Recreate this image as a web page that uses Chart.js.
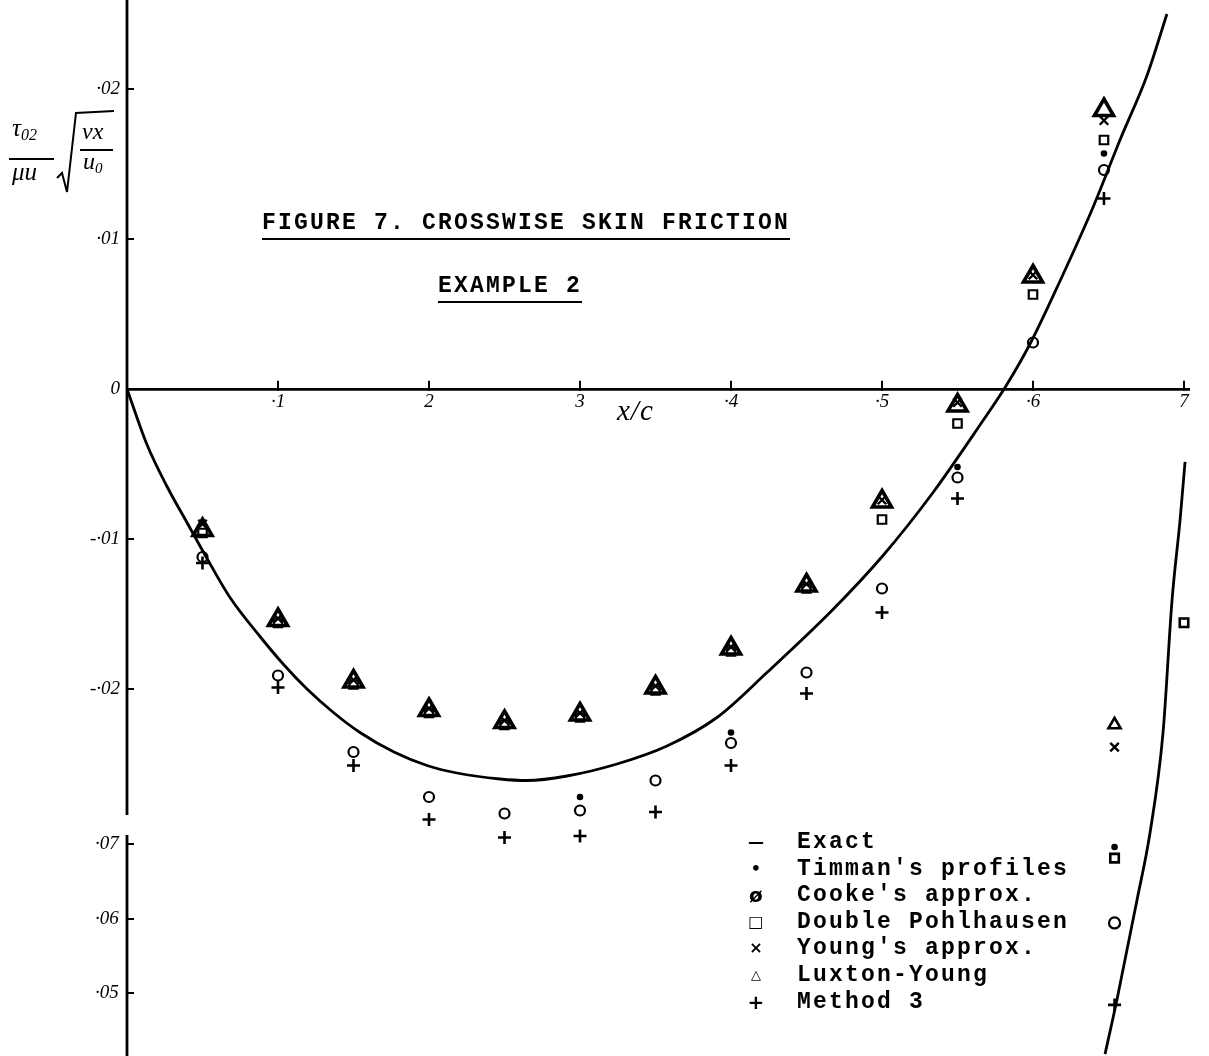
<!DOCTYPE html>
<html><head><meta charset="utf-8">
<script src="https://cdn.jsdelivr.net/npm/chart.js@4.4.1/dist/chart.umd.min.js"></script>
<style>
html,body{margin:0;padding:0;background:#fff;}
#wrap{position:relative;width:1209px;height:1056px;overflow:hidden;background:#fff;}
canvas{position:absolute;left:0;top:0;}
.ov{position:absolute;color:#000;white-space:nowrap;}
.tw{font-family:"Liberation Mono","DejaVu Sans Mono",monospace;font-weight:bold;font-size:23px;letter-spacing:2.2px;white-space:nowrap;}
.hw{font-family:"Liberation Serif","DejaVu Serif",serif;font-style:italic;}
.leg{position:absolute;left:745px;top:829px;}
.leg .row{position:relative;height:26.6px;line-height:26.6px;white-space:nowrap;}
.leg .sym{position:absolute;left:0;width:24px;text-align:center;font-family:"DejaVu Sans",sans-serif;font-size:16px;}
.leg .txt{position:absolute;left:52px;white-space:nowrap;}
</style></head>
<body><div id="wrap"><canvas id="c" width="1209" height="1056"></canvas>

<div class="ov hw" style="left:12px;top:114px;font-size:25px;">τ<span style="font-size:16px;position:relative;top:4px;">02</span></div>
<div class="ov" style="left:9px;top:158px;width:45px;border-top:2px solid #000;"></div>
<div class="ov hw" style="left:12px;top:158px;font-size:25px;">μu</div>
<svg class="ov" style="left:0;top:0;" width="130" height="200"><polyline points="57,178 62,173 67,192 76,113 114,111" fill="none" stroke="#000" stroke-width="2"/></svg>
<div class="ov hw" style="left:82px;top:118px;font-size:24px;">νx</div>
<div class="ov" style="left:80px;top:149px;width:33px;border-top:2px solid #000;"></div>
<div class="ov hw" style="left:83px;top:148px;font-size:24px;">u<span style="font-size:15px;position:relative;top:4px;">0</span></div>

<div class="ov tw" style="left:262px;top:211px;line-height:24px;border-bottom:2.5px solid #000;padding-bottom:3px;">FIGURE 7. CROSSWISE SKIN FRICTION</div>
<div class="ov tw" style="left:438px;top:274px;line-height:24px;border-bottom:2.5px solid #000;padding-bottom:3px;">EXAMPLE 2</div>

<div class="ov hw" style="left:617px;top:394px;font-size:29px;letter-spacing:1px;">x/c</div>

<div class="leg tw">
 <div class="row"><span class="sym">—</span><span class="txt">Exact</span></div>
 <div class="row"><span class="sym">•</span><span class="txt">Timman's profiles</span></div>
 <div class="row"><span class="sym" style="font-size:20px;font-weight:bold;">ø</span><span class="txt">Cooke's approx.</span></div>
 <div class="row"><span class="sym">□</span><span class="txt">Double Pohlhausen</span></div>
 <div class="row"><span class="sym">×</span><span class="txt">Young's approx.</span></div>
 <div class="row"><span class="sym" style="font-size:13px;">△</span><span class="txt">Luxton-Young</span></div>
 <div class="row"><span class="sym" style="font-size:20px;">+</span><span class="txt">Method 3</span></div>
</div>
</div>
<script>
// ---- tick values and labels ----
const xTicks = [0, 0.1, 0.2, 0.3, 0.4, 0.5, 0.6, 0.7];
const xTickLabels = ["", "·1", "2", "3", "·4", "·5", "·6", "7"];
const yTicks = [-0.02, -0.01, 0, 0.01, 0.02];
const yTickLabels = ["-·02", "-·01", "0", "·01", "·02"];
const y2Ticks = [0.05, 0.06, 0.07];
const y2TickLabels = ["·05", "·06", "·07"];

// ---- exact solution (main branch, main scale) ----
const exactX = [0, 0.0132, 0.0265, 0.0397, 0.0530, 0.0682, 0.0881, 0.1040, 0.1192, 0.1371, 0.1543, 0.1768, 0.1987, 0.2185, 0.2470, 0.2649, 0.2914, 0.3245, 0.3576, 0.3907, 0.4238, 0.4675, 0.5007, 0.5338, 0.5649, 0.5821, 0.5980, 0.6179, 0.6397, 0.6576, 0.6755, 0.6887];
const exactY = [0, -0.0037, -0.0065, -0.0089, -0.0113, -0.0139, -0.0165, -0.0184, -0.0200, -0.0216, -0.0229, -0.0242, -0.0251, -0.0256, -0.0260, -0.0261, -0.0258, -0.0250, -0.0238, -0.0219, -0.0189, -0.0147, -0.0111, -0.0069, -0.0024, 0.0002, 0.0030, 0.0072, 0.0121, 0.0166, 0.0209, 0.0250];
// ---- exact solution (second branch, lower scale) ----
const exact2X = [0.6477, 0.6556, 0.6689, 0.6775, 0.6861, 0.6921, 0.6974, 0.7007];
const exact2Y = [0.0418, 0.0491, 0.0625, 0.0715, 0.0849, 0.1028, 0.1135, 0.1213];

// ---- approximate methods (main scale) ----
const stationsX = [0.05, 0.10, 0.15, 0.20, 0.25, 0.30, 0.35, 0.40, 0.45, 0.50, 0.55, 0.60, 0.647];
const luxtonY = [-0.0094, -0.0154, -0.0195, -0.0214, -0.0222, -0.0217, -0.0199, -0.0173, -0.0131, -0.0075, -0.0011, 0.0075, 0.0186];
const youngY  = [-0.0090, -0.0153, -0.0194, -0.0213, -0.0221, -0.0216, -0.0198, -0.0172, -0.0130, -0.0074, -0.0009, 0.0076, 0.0179];
const pohlY   = [-0.0096, -0.0156, -0.0197, -0.0216, -0.0224, -0.0219, -0.0201, -0.0175, -0.0133, -0.0087, -0.0023, 0.0063, 0.0166];
const cookeY  = [-0.0112, -0.0191, -0.0242, -0.0272, -0.0283, -0.0281, -0.0261, -0.0236, -0.0189, -0.0133, -0.0059, 0.0031, 0.0146];
const method3X = [0.05, 0.10, 0.15, 0.20, 0.25, 0.30, 0.35, 0.40, 0.45, 0.50, 0.55, 0.647];
const method3Y = [-0.0116, -0.0199, -0.0251, -0.0287, -0.0299, -0.0298, -0.0282, -0.0251, -0.0203, -0.0149, -0.0073, 0.0127];
const timmanX = [0.30, 0.40, 0.55, 0.647];
const timmanY = [-0.0272, -0.0229, -0.0052, 0.0157];

// ---- approximate methods (lower scale) ----
const lowX = [0.654];
const luxtonLowY = [0.0860];
const youngLowY = [0.0830];
const timmanLowY = [0.0696];
const cookeLowY = [0.0594];
const method3LowY = [0.0484];
const pohlLowX = [0.654, 0.700];
const pohlLowY = [0.0681, 0.0997];

// ---- axis break positions ----
const mainAxisEnd = -0.0284;
const lowerAxisStart = 0.0712;

const pts = (xs, ys) => xs.map((x, i) => ({x: x, y: ys[i]}));
const tickFont = {family: "'Liberation Serif','DejaVu Serif',serif", style: 'italic', size: 19};

function marker(label, xs, ys, style, radius, axis, extra) {
  return Object.assign({
    label: label, data: pts(xs, ys), yAxisID: axis, showLine: false,
    pointStyle: style, pointRadius: radius, pointHoverRadius: radius,
    borderColor: '#000', backgroundColor: 'rgba(0,0,0,0)', pointBorderWidth: 2,
    clip: false
  }, extra || {});
}

const datasets = [
  {label: 'Exact', data: pts(exactX, exactY), yAxisID: 'y', showLine: true, borderColor: '#000', borderWidth: 2.8, pointRadius: 0, cubicInterpolationMode: 'monotone', clip: false},
  {label: 'Exact (lower scale)', data: pts(exact2X, exact2Y), yAxisID: 'y2', showLine: true, borderColor: '#000', borderWidth: 2.8, pointRadius: 0, cubicInterpolationMode: 'monotone', clip: false},
  marker("Luxton-Young", stationsX, luxtonY, 'triangle', 11, 'y', {pointBorderWidth: 3.6}),
  marker("Double Pohlhausen", stationsX, pohlY, 'rect', 6, 'y', {pointBorderWidth: 2.2}),
  marker("Young's approx.", stationsX, youngY, 'crossRot', 6, 'y', {pointBorderWidth: 2.4}),
  marker("Cooke's approx.", stationsX, cookeY, 'circle', 5, 'y', {pointBorderWidth: 2.2}),
  marker("Method 3", method3X, method3Y, 'cross', 6.5, 'y', {pointBorderWidth: 2.6}),
  marker("Timman's profiles", timmanX, timmanY, 'circle', 2.3, 'y', {backgroundColor: '#000'}),
  marker("Luxton-Young (lower)", lowX, luxtonLowY, 'triangle', 7, 'y2', {pointBorderWidth: 2.6}),
  marker("Young's approx. (lower)", lowX, youngLowY, 'crossRot', 6, 'y2', {pointBorderWidth: 2.4}),
  marker("Timman's profiles (lower)", lowX, timmanLowY, 'circle', 2.3, 'y2', {backgroundColor: '#000'}),
  marker("Double Pohlhausen (lower)", pohlLowX, pohlLowY, 'rect', 6, 'y2', {pointBorderWidth: 2.6}),
  marker("Cooke's approx. (lower)", lowX, cookeLowY, 'circle', 5.5, 'y2', {pointBorderWidth: 2.2}),
  marker("Method 3 (lower)", lowX, method3LowY, 'cross', 6.5, 'y2', {pointBorderWidth: 2.6})
];

const brokenAxis = {
  id: 'brokenAxis',
  afterDraw(chart) {
    const {ctx, chartArea, scales} = chart;
    const x = chartArea.left;
    ctx.save();
    ctx.strokeStyle = '#000';
    ctx.lineWidth = 2.8;
    ctx.beginPath();
    ctx.moveTo(x, chartArea.top);
    ctx.lineTo(x, scales.y.getPixelForValue(mainAxisEnd));
    ctx.moveTo(x, scales.y2.getPixelForValue(lowerAxisStart));
    ctx.lineTo(x, chartArea.bottom);
    ctx.stroke();
    ctx.restore();
  }
};

function noPad(s) { s.paddingTop = 0; s.paddingBottom = 0; s.paddingLeft = 0; s.paddingRight = 0; }

new Chart(document.getElementById('c'), {
  type: 'scatter',
  data: {datasets: datasets},
  plugins: [brokenAxis],
  options: {
    responsive: false, animation: false, devicePixelRatio: 1,
    layout: {autoPadding: false, padding: {left: 0, right: 20, top: 0, bottom: 0}},
    plugins: {legend: {display: false}, tooltip: {enabled: false}, title: {display: false}},
    scales: {
      x: {
        type: 'linear', min: 0, max: 1062 / 1510, position: {y: 0},
        afterBuildTicks: s => { s.ticks = xTicks.map(v => ({value: v})); },
        afterFit: noPad,
        ticks: {callback: (v, i) => xTickLabels[i], font: tickFont, color: '#000', padding: 12, maxRotation: 0, autoSkip: false},
        grid: {display: true, drawOnChartArea: false, drawTicks: true, tickLength: -10, color: '#000', lineWidth: 2},
        border: {display: true, color: '#000', width: 2.8}
      },
      y: {
        type: 'linear', position: 'left', weight: 1, min: -667 / 15000, max: 389 / 15000,
        afterFit: s => { s.width = 127; noPad(s); },
        afterBuildTicks: s => { s.ticks = yTicks.map(v => ({value: v})); },
        ticks: {callback: (v, i) => yTickLabels[i], font: tickFont, color: '#000', padding: 14},
        grid: {display: true, drawOnChartArea: false, drawTicks: true, tickLength: -7, color: '#000', lineWidth: 2},
        border: {display: false}
      },
      y2: {
        type: 'linear', position: 'left', weight: 0, min: 0.07 - 212 / 7450, max: 0.07 + 844 / 7450,
        afterFit: s => { s.width = 0; noPad(s); },
        afterBuildTicks: s => { s.ticks = y2Ticks.map(v => ({value: v})); },
        ticks: {callback: (v, i) => y2TickLabels[i], font: tickFont, color: '#000', mirror: true, padding: -32},
        grid: {display: true, drawOnChartArea: false, drawTicks: true, tickLength: -7, color: '#000', lineWidth: 2},
        border: {display: false}
      }
    }
  }
});
</script>
</body></html>
